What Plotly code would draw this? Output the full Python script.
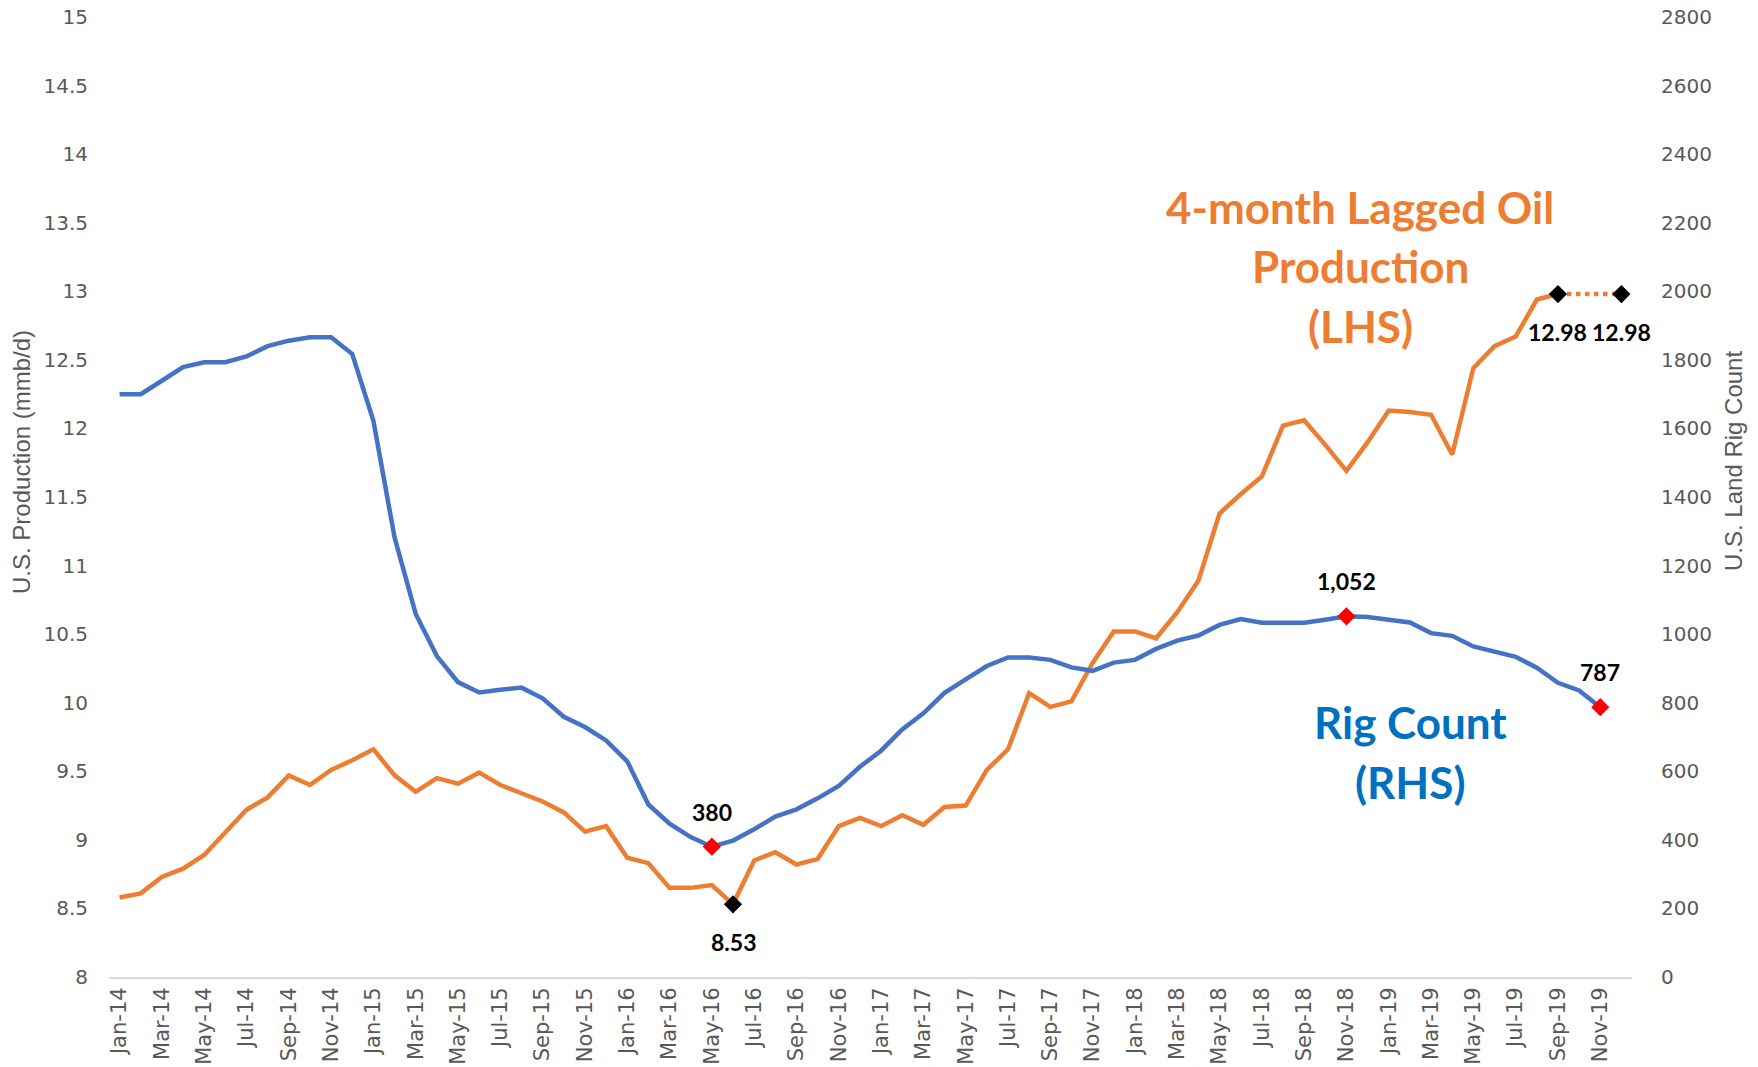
import plotly.graph_objects as go

# ---------------- data ----------------
month_names = ["Jan", "Feb", "Mar", "Apr", "May", "Jun", "Jul", "Aug", "Sep", "Oct", "Nov", "Dec"]
years = ["14", "15", "16", "17", "18", "19"]
months = [f"{m}-{y}" for y in years for m in month_names]  # Jan-14 .. Dec-19

rig_count = [
    1700, 1700, 1739, 1779, 1793, 1793, 1810, 1840, 1856, 1866, 1866, 1817,
    1622, 1282, 1059, 936, 860, 830, 838, 844, 813, 759, 729, 690,
    629, 503, 447, 408, 380, 398, 431, 468, 489, 521, 557, 613,
    660, 722, 769, 829, 868, 907, 932, 932, 925, 903, 893, 917,
    925, 957, 981, 996, 1027, 1044, 1033, 1033, 1033, 1042, 1052, 1050,
    1043, 1034, 1003, 995, 964, 949, 934, 902, 858, 836, 787, None,
]

oil_prod = [
    8.58, 8.61, 8.73, 8.79, 8.89, 9.05, 9.22, 9.31, 9.47, 9.40, 9.51, 9.58,
    9.66, 9.47, 9.35, 9.45, 9.41, 9.49, 9.40, 9.34, 9.28, 9.20, 9.06, 9.10,
    8.87, 8.83, 8.65, 8.65, 8.67, 8.53, 8.85, 8.91, 8.82, 8.86, 9.10, 9.16,
    9.10, 9.18, 9.11, 9.24, 9.25, 9.51, 9.66, 10.07, 9.97, 10.01, 10.29, 10.52,
    10.52, 10.47, 10.66, 10.89, 11.38, 11.52, 11.65, 12.02, 12.06, 11.88, 11.69, 11.90,
    12.13, 12.12, 12.10, 11.81, 12.44, 12.60, 12.67, 12.94, 12.98, None, None, None,
]

# projected flat segment
proj_months = ["Sep-19", "Dec-19"]
proj_values = [12.98, 12.98]

# highlighted points
rig_marks = ["May-16", "Nov-18", "Nov-19"]
prod_marks = ["Jun-16", "Sep-19", "Dec-19"]

tick_labels = months[::2]

BLUE = "#4472C4"
ORANGE = "#ED7D31"
GREY = "#595959"

rig_map = dict(zip(months, rig_count))
prod_map = dict(zip(months, oil_prod))
prod_map.update(dict(zip(proj_months, proj_values)))

fig = go.Figure()

fig.add_trace(go.Scatter(x=months, y=oil_prod, mode="lines",
                         line=dict(color=ORANGE, width=4.5), yaxis="y",
                         connectgaps=False))
fig.add_trace(go.Scatter(x=proj_months, y=proj_values, mode="lines",
                         line=dict(color=ORANGE, width=4.5, dash="dot"), yaxis="y"))
fig.add_trace(go.Scatter(x=months, y=rig_count, mode="lines",
                         line=dict(color=BLUE, width=4.5), yaxis="y2"))

fig.add_trace(go.Scatter(x=rig_marks, y=[rig_map[m] for m in rig_marks], mode="markers",
                         marker=dict(symbol="diamond", size=14, color="#FF0000"), yaxis="y2"))
fig.add_trace(go.Scatter(x=prod_marks, y=[prod_map[m] for m in prod_marks], mode="markers",
                         marker=dict(symbol="diamond", size=14, color="#000000"), yaxis="y"))

annotations = []
lbl_font = dict(family="Lato, Open Sans, sans-serif", size=23, color="#000000")
for m in rig_marks:
    annotations.append(dict(x=m, y=rig_map[m], xref="x", yref="y2",
                            text=f"<b>{rig_map[m]:,}</b>", showarrow=False,
                            font=lbl_font, yshift=35))
for m in prod_marks:
    annotations.append(dict(x=m, y=prod_map[m], xref="x", yref="y",
                            text=f"<b>{prod_map[m]:.2f}</b>", showarrow=False,
                            font=lbl_font, yshift=-38))

# Plot area in pixels: left 109, right 1632, top 17, bottom 977
W, H = 1758, 1067
L, R, T, B = 109, 1632, 17, 977


def px(x):
    return (x - L) / (R - L)


def py(y):
    return (B - y) / (B - T)


big_font_o = dict(family="Lato, Open Sans, sans-serif", size=44, color=ORANGE)
big_font_b = dict(family="Lato, Open Sans, sans-serif", size=44, color="#0070C0")
for txt, yy in [("4-month Lagged Oil", 207), ("Production", 266), ("(LHS)", 326)]:
    annotations.append(dict(x=px(1360), y=py(yy), xref="paper", yref="paper",
                            text=f"<b>{txt}</b>", showarrow=False, font=big_font_o,
                            xanchor="center", yanchor="middle"))
for txt, yy in [("Rig Count", 722), ("(RHS)", 782)]:
    annotations.append(dict(x=px(1410), y=py(yy), xref="paper", yref="paper",
                            text=f"<b>{txt}</b>", showarrow=False, font=big_font_b,
                            xanchor="center", yanchor="middle"))

title_font = dict(family="Liberation Sans Narrow, Arial Narrow, Liberation Sans, sans-serif",
                  size=24, color=GREY)
annotations.append(dict(x=px(22), y=py(462), xref="paper", yref="paper",
                        text="U.S. Production (mmb/d)", textangle=-90, showarrow=False,
                        font=title_font, xanchor="center", yanchor="middle"))
annotations.append(dict(x=px(1733), y=py(461), xref="paper", yref="paper",
                        text="U.S. Land Rig Count", textangle=-90, showarrow=False,
                        font=title_font, xanchor="center", yanchor="middle"))

tick_font = dict(family="DejaVu Sans, sans-serif", size=20, color=GREY)

fig.update_layout(
    width=W, height=H,
    margin=dict(l=L, r=W - R, t=T, b=H - B, autoexpand=False),
    plot_bgcolor="white", paper_bgcolor="white",
    showlegend=False,
    annotations=annotations,
    xaxis=dict(type="category", categoryorder="array", categoryarray=months,
               range=[-0.5, len(months) - 0.5], automargin=False,
               tickmode="array", tickvals=tick_labels, ticktext=tick_labels,
               tickangle=-90, tickfont=dict(family="DejaVu Sans, sans-serif", size=21, color=GREY),
               showgrid=False, showline=True, linecolor="#D9D9D9", linewidth=2,
               ticks="", zeroline=False),
    yaxis=dict(range=[8, 15], dtick=0.5, tick0=8, showgrid=False, zeroline=False,
               showline=False, tickfont=tick_font, ticks="outside", ticklen=16,
               tickcolor="rgba(0,0,0,0)", automargin=False),
    yaxis2=dict(range=[0, 2800], dtick=200, tick0=0, overlaying="y", side="right",
                showgrid=False, zeroline=False, showline=False, tickfont=tick_font,
                ticks="outside", ticklen=24, tickcolor="rgba(0,0,0,0)", automargin=False),
)

fig.write_html("out.html", config={"displayModeBar": False},
               post_script="document.body.style.margin='0';")
